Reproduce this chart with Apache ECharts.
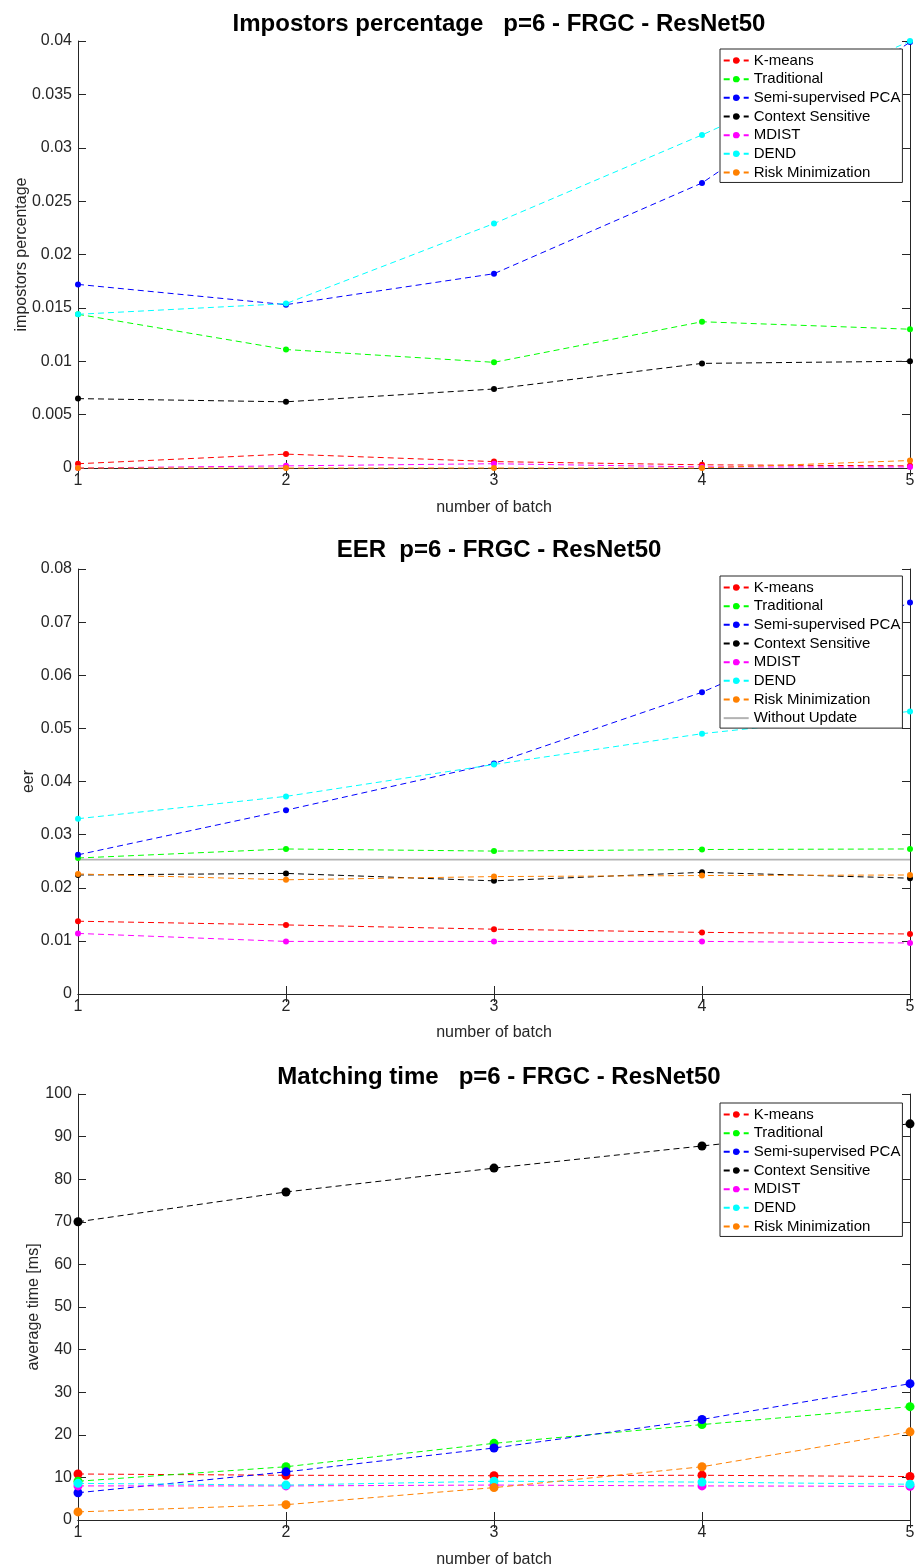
<!DOCTYPE html>
<html>
<head>
<meta charset="utf-8">
<script src="https://cdn.jsdelivr.net/npm/echarts@6/dist/echarts.min.js"></script>
<style>
  html, body { margin: 0; padding: 0; background: #fff; }
  .panel { position: absolute; left: 0; width: 915px; }
</style>
</head>
<body>
<div id="c1" class="panel" style="top:0;height:525px"></div>
<div id="c2" class="panel" style="top:525px;height:525px"></div>
<div id="c3" class="panel" style="top:1050px;height:518px"></div>
<script>
// x values: batch numbers
const batches = [1, 2, 3, 4, 5];
const methodNames = ['K-means', 'Traditional', 'Semi-supervised PCA', 'Context Sensitive', 'MDIST', 'DEND', 'Risk Minimization'];
const methodColors = ['#ff0000', '#00ff00', '#0000ff', '#000000', '#ff00ff', '#00ffff', '#ff8000'];

// Impostors percentage per batch
const impKmeans      = [0.0004, 0.0013, 0.0006, 0.0003, 0.0002];
const impTraditional = [0.0144, 0.0111, 0.0099, 0.0137, 0.0130];
const impSemiPCA     = [0.0172, 0.0153, 0.0182, 0.0267, 0.0399];
const impContext     = [0.0065, 0.0062, 0.0074, 0.0098, 0.0100];
const impMdist       = [0.0000, 0.0002, 0.0004, 0.0001, 0.0001];
const impDend        = [0.0144, 0.0154, 0.0229, 0.0312, 0.0400];
const impRisk        = [0.0000, 0.0000, 0.0000, 0.0000, 0.0007];

// EER per batch
const eerKmeans      = [0.0137, 0.0130, 0.0122, 0.0116, 0.0113];
const eerTraditional = [0.0256, 0.0273, 0.0269, 0.0272, 0.0273];
const eerSemiPCA     = [0.0262, 0.0346, 0.0434, 0.0568, 0.0737];
const eerContext     = [0.0224, 0.0227, 0.0213, 0.0229, 0.0218];
const eerMdist       = [0.0114, 0.0099, 0.0099, 0.0099, 0.0096];
const eerDend        = [0.0330, 0.0372, 0.0432, 0.0490, 0.0532];
const eerRisk        = [0.0226, 0.0215, 0.0221, 0.0223, 0.0224];
const eerNoUpdate    = [0.0253, 0.0253, 0.0253, 0.0253, 0.0253];

// Average matching time [ms] per batch
const timeKmeans      = [10.8, 10.5, 10.4, 10.5, 10.2];
const timeTraditional = [9.1, 12.5, 18.0, 22.4, 26.6];
const timeSemiPCA     = [6.4, 11.3, 16.9, 23.6, 32.0];
const timeContext     = [70.0, 77.0, 82.6, 87.8, 93.0];
const timeMdist       = [8.0, 8.0, 8.2, 8.0, 7.9];
const timeDend        = [8.6, 8.2, 9.1, 8.9, 8.4];
const timeRisk        = [1.9, 3.6, 7.6, 12.5, 20.7];

const FONT = '"Liberation Sans", Arial, Helvetica, sans-serif';
const AX = '#262626';

function pairs(vals) { return batches.map((b, i) => [b, vals[i]]); }

function makeSeries(valueSets, symbolSize) {
  return valueSets.map((vals, i) => ({
    name: methodNames[i],
    type: 'line',
    data: pairs(vals),
    symbol: 'circle',
    symbolSize: symbolSize,
    clip: false,
    color: methodColors[i],
    itemStyle: { color: methodColors[i] },
    lineStyle: { color: methodColors[i], width: 1, type: [6, 4] },
    emphasis: { disabled: true },
    animation: false
  }));
}

function makeOption(cfg) {
  const tickStyle = { show: true, inside: true, length: 8, lineStyle: { color: AX, width: 1 } };
  const lineStyle = { show: true, lineStyle: { color: AX, width: 1 } };
  return {
    animation: false,
    textStyle: { fontFamily: FONT },
    title: {
      text: cfg.title,
      left: 494,
      top: cfg.titleTop,
      textAlign: 'center',
      textStyle: { fontFamily: FONT, fontWeight: 'bold', fontSize: 24, color: '#000' }
    },
    legend: {
      orient: 'vertical',
      left: 720,
      top: cfg.legendTop,
      data: cfg.legendNames,
      backgroundColor: '#fff',
      borderColor: AX,
      borderWidth: 1,
      borderRadius: 0,
      padding: [4, 2, 2.5, 2.7],
      itemGap: 3.66,
      itemWidth: 25,
      itemHeight: 8,
      selectedMode: false,
      textStyle: { fontFamily: FONT, fontSize: 15, color: '#000', lineHeight: 15 }
    },
    grid: { left: 78, top: cfg.gridTop, width: 832, height: cfg.gridHeight, containLabel: false, outerBoundsMode: 'none' },
    xAxis: [{
      type: 'value', min: 1, max: 5, interval: 1, position: 'bottom',
      name: 'number of batch', nameLocation: 'middle', nameGap: cfg.xNameGap, nameMoveOverlap: false,
      nameTextStyle: { fontFamily: FONT, fontSize: 16, color: AX },
      axisLine: lineStyle, axisTick: tickStyle, splitLine: { show: false },
      axisLabel: { fontFamily: FONT, fontSize: 16, color: AX, margin: 5 }
    }, {
      type: 'value', min: 1, max: 5, interval: 1, position: 'top',
      axisLine: lineStyle, axisTick: tickStyle, splitLine: { show: false },
      axisLabel: { show: false }
    }],
    yAxis: [{
      type: 'value', min: 0, max: cfg.yMax, interval: cfg.yInterval, position: 'left',
      name: cfg.yName, nameLocation: 'middle', nameGap: cfg.yNameGap, nameMoveOverlap: false,
      nameTextStyle: { fontFamily: FONT, fontSize: 16, color: AX },
      axisLine: lineStyle, axisTick: tickStyle, splitLine: { show: false },
      axisLabel: { fontFamily: FONT, fontSize: 16, color: AX, margin: 6 }
    }, {
      type: 'value', min: 0, max: cfg.yMax, interval: cfg.yInterval, position: 'right',
      axisLine: lineStyle, axisTick: tickStyle, splitLine: { show: false },
      axisLabel: { show: false }
    }],
    series: cfg.series
  };
}

// Impostors percentage
const chart1 = echarts.init(document.getElementById('c1'));
chart1.setOption(makeOption({
  title: 'Impostors percentage   p=6 - FRGC - ResNet50',
  titleTop: 7,
  legendTop: 49,
  legendNames: methodNames,
  gridTop: 41, gridHeight: 427,
  xNameGap: 32,
  yMax: 0.04, yInterval: 0.005,
  yName: 'impostors percentage', yNameGap: 48,
  series: makeSeries([impKmeans, impTraditional, impSemiPCA, impContext, impMdist, impDend, impRisk], 6)
}));

// EER, with the constant reference level drawn as a solid grey line
const eerSeries = makeSeries([eerKmeans, eerTraditional, eerSemiPCA, eerContext, eerMdist, eerDend, eerRisk], 6);
eerSeries.push({
  name: 'Without Update',
  type: 'line',
  data: pairs(eerNoUpdate),
  symbol: 'none',
  showSymbol: false,
  itemStyle: { color: 'rgba(0,0,0,0)' },
  lineStyle: { color: '#b3b3b3', width: 1.6, type: 'solid' },
  emphasis: { disabled: true },
  animation: false
});
const chart2 = echarts.init(document.getElementById('c2'));
chart2.setOption(makeOption({
  title: 'EER  p=6 - FRGC - ResNet50',
  titleTop: 8,
  legendTop: 51,
  legendNames: methodNames.concat(['Without Update']),
  gridTop: 44, gridHeight: 425,
  xNameGap: 31,
  yMax: 0.08, yInterval: 0.01,
  yName: 'eer', yNameGap: 41,
  series: eerSeries
}));

// Matching time
const chart3 = echarts.init(document.getElementById('c3'));
chart3.setOption(makeOption({
  title: 'Matching time   p=6 - FRGC - ResNet50',
  titleTop: 10,
  legendTop: 53,
  legendNames: methodNames,
  gridTop: 44, gridHeight: 426,
  xNameGap: 32,
  yMax: 100, yInterval: 10,
  yName: 'average time [ms]', yNameGap: 36,
  series: makeSeries([timeKmeans, timeTraditional, timeSemiPCA, timeContext, timeMdist, timeDend, timeRisk], 9)
}));
</script>
</body>
</html>
